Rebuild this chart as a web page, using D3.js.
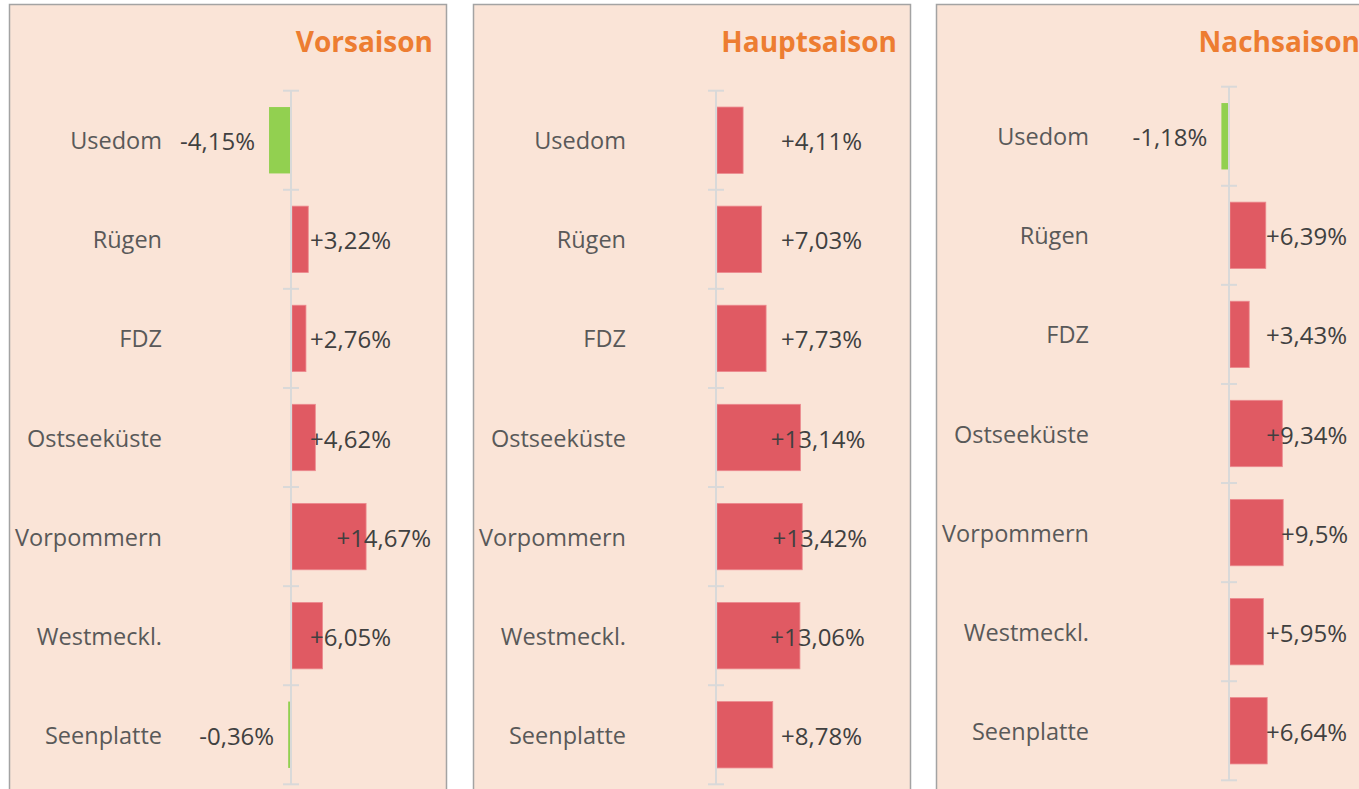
<!DOCTYPE html>
<html>
<head>
<meta charset="utf-8">
<script src="https://cdn.jsdelivr.net/npm/d3@7"></script>
<style>
  body { margin: 0; background: #fff; }
  svg { display: block; font-family: "Open Sans", sans-serif; }
</style>
</head>
<body>
<svg width="1359" height="789"></svg>
<script>
// regions (top to bottom)
var regions = ["Usedom", "Rügen", "FDZ", "Ostseeküste", "Vorpommern", "Westmeckl.", "Seenplatte"];
var seasons = ["Vorsaison", "Hauptsaison", "Nachsaison"];
// change in % per season
var vorsaison = [-4.15, 3.22, 2.76, 4.62, 14.67, 6.05, -0.36];
var hauptsaison = [4.11, 7.03, 7.73, 13.14, 13.42, 13.06, 8.78];
var nachsaison = [-1.18, 6.39, 3.43, 9.34, 9.5, 5.95, 6.64];

var seriesList = [vorsaison, hauptsaison, nachsaison];

// panel layout (left edge, axis offset, px per %, vertical shift, label column)
var layout = [
  { left: 9,   axis: 282, ppu: 5.05, dy: 0,  col: 100 },
  { left: 473, axis: 243, ppu: 6.35, dy: 0,  col: 146 },
  { left: 936, axis: 293, ppu: 5.6,  dy: -4, col: 118 }
];
var panelW = 437;

var fmt = function (v) {
  var s = String(Math.abs(v)).replace(".", ",");
  return (v < 0 ? "-" : "+") + s + "%";
};

var svg = d3.select("svg");

seriesList.forEach(function (values, k) {
  var L = layout[k];
  var g = svg.append("g").attr("transform", "translate(" + L.left + ",0)");

  g.append("rect")
    .attr("x", 0.5).attr("y", 4.5)
    .attr("width", panelW).attr("height", 800)
    .attr("fill", "#fae4d7")
    .attr("stroke", "#a3a3a3")
    .attr("stroke-width", 1.5);

  g.append("text")
    .attr("x", panelW - 13).attr("y", 52)
    .attr("text-anchor", "end")
    .attr("font-size", 28).attr("font-weight", 700)
    .attr("fill", "#ed7d31")
    .text(seasons[k]);

  var lo = d3.min(values), hi = d3.max(values);
  var x = d3.scaleLinear()
    .domain([Math.min(0, lo), hi])
    .range([L.axis + Math.min(0, lo) * L.ppu, L.axis + hi * L.ppu]);

  var y = d3.scaleBand()
    .domain(regions)
    .range([90.7 + L.dy, 784.3 + L.dy])
    .paddingInner(0.33)
    .paddingOuter(0.165);

  var rows = regions.map(function (r, i) { return { region: r, value: values[i] }; });

  // bars
  g.selectAll(".bar")
    .data(rows)
    .enter()
    .append("rect")
    .attr("class", "bar")
    .attr("x", d => d.value < 0 ? x(d.value) - 1 : x(0) + 1)
    .attr("width", d => Math.max(1, Math.abs(x(d.value) - x(0))))
    .attr("y", d => y(d.region))
    .attr("height", y.bandwidth())
    .attr("fill", d => d.value < 0 ? "#92d050" : "#e05a63")
    .attr("stroke", d => d.value < 0 ? "none" : "#ec8a8f")
    .attr("stroke-width", 0.8);

  // axis line with boundary ticks
  var half = y.paddingInner() * y.step() / 2;
  var bounds = regions.map(d => y(d) - half).concat([y(regions[regions.length - 1]) + y.bandwidth() + half]);
  g.append("line")
    .attr("x1", x(0)).attr("x2", x(0))
    .attr("y1", bounds[0]).attr("y2", bounds[bounds.length - 1])
    .attr("stroke", "#d9d9d9").attr("stroke-width", 2);
  g.selectAll(".tick")
    .data(bounds)
    .enter()
    .append("line")
    .attr("class", "tick")
    .attr("x1", x(0) - 8).attr("x2", x(0) + 8)
    .attr("y1", d => d).attr("y2", d => d)
    .attr("stroke", "#d9d9d9").attr("stroke-width", 2);

  // category labels
  g.selectAll(".cat")
    .data(rows)
    .enter()
    .append("text")
    .attr("class", "cat")
    .attr("x", 153)
    .attr("y", d => y(d.region) + y.bandwidth() / 2 + 9)
    .attr("text-anchor", "end")
    .attr("font-size", 23.5)
    .attr("fill", "#595959")
    .text(d => d.region);

  // value labels
  g.selectAll(".val")
    .data(rows)
    .enter()
    .append("text")
    .attr("class", "val")
    .attr("x", d => d.value < 0 ? x(d.value) - 15 : Math.max(L.axis + L.col, x(d.value) + 66))
    .attr("y", d => y(d.region) + y.bandwidth() / 2 + 10)
    .attr("text-anchor", "end")
    .attr("font-size", 24)
    .attr("fill", "#404040")
    .text(d => fmt(d.value));
});
</script>
</body>
</html>
